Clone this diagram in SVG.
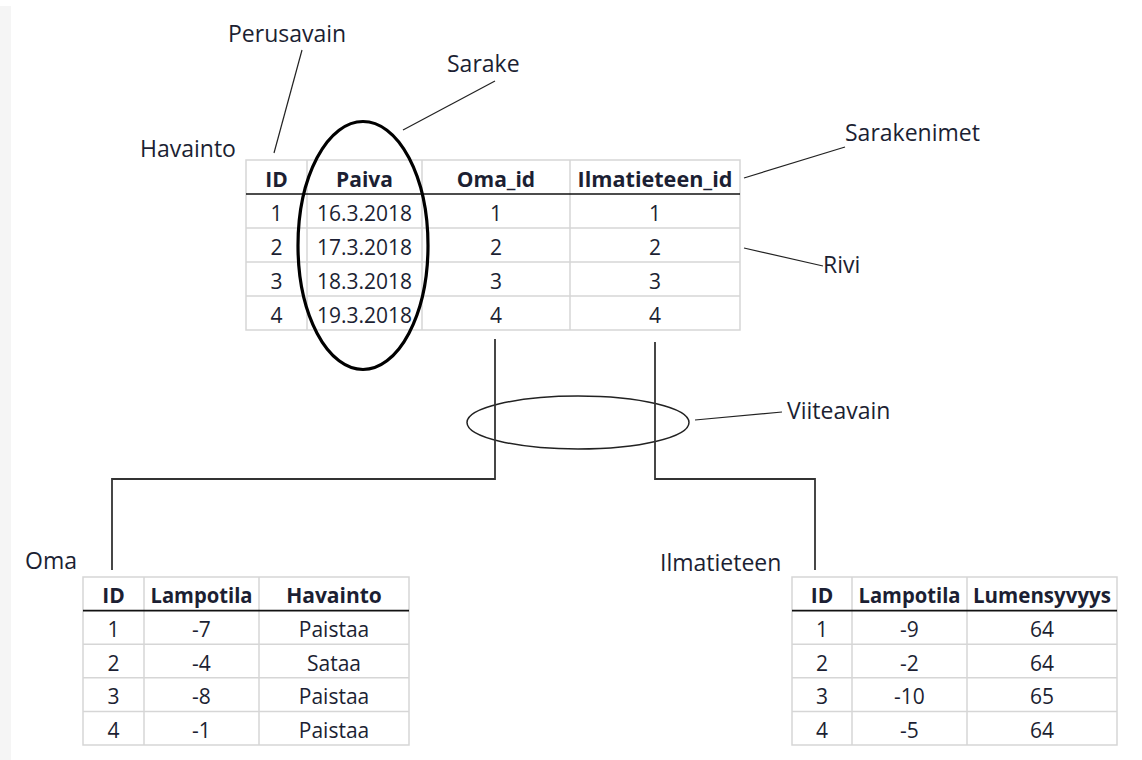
<svg xmlns="http://www.w3.org/2000/svg" width="1142" height="760" viewBox="0 0 1142 760">
  <style>
    .lbl { font-family: "Open Sans", "Liberation Sans", sans-serif; font-size: 23px; fill: #1c1f33; }
    .th { font-family: "Open Sans", "Liberation Sans", sans-serif; font-size: 21px; font-weight: bold; fill: #1c1f33; text-anchor: middle; }
    .td { font-family: "Open Sans", "Liberation Sans", sans-serif; font-size: 21px; fill: #1c1f33; text-anchor: middle; }
    .grid { stroke: #d6d6d6; stroke-width: 1.5; fill: #ffffff; }
    .headline { stroke: #111111; stroke-width: 1.6; }
    .lead { stroke: #222222; stroke-width: 1.2; fill: none; }
    .conn { stroke: #333333; stroke-width: 1.8; fill: none; }
  </style>

  <rect x="0" y="0" width="1142" height="760" fill="#ffffff"/>
  <rect x="0" y="6" width="11" height="754" fill="#f5f5f5"/>

  <!-- Havainto table -->
  <g id="havainto">
    <text class="lbl" x="140" y="157">Havainto</text>
    <rect class="grid" x="246" y="160" width="494" height="170"/>
    <g class="grid">
      <line x1="307" y1="160" x2="307" y2="330"/>
      <line x1="422" y1="160" x2="422" y2="330"/>
      <line x1="570" y1="160" x2="570" y2="330"/>
      <line x1="246" y1="228" x2="740" y2="228"/>
      <line x1="246" y1="262" x2="740" y2="262"/>
      <line x1="246" y1="296" x2="740" y2="296"/>
    </g>
    <line class="headline" x1="246" y1="194" x2="740" y2="194"/>
    <text class="th" x="276.5" y="187">ID</text>
    <text class="th" x="364.5" y="187">Paiva</text>
    <text class="th" x="496" y="187">Oma_id</text>
    <text class="th" x="655" y="187" textLength="155" lengthAdjust="spacingAndGlyphs">Ilmatieteen_id</text>
    <text class="td" x="276.5" y="221">1</text>
    <text class="td" x="364.5" y="221">16.3.2018</text>
    <text class="td" x="496" y="221">1</text>
    <text class="td" x="655" y="221">1</text>
    <text class="td" x="276.5" y="255">2</text>
    <text class="td" x="364.5" y="255">17.3.2018</text>
    <text class="td" x="496" y="255">2</text>
    <text class="td" x="655" y="255">2</text>
    <text class="td" x="276.5" y="289">3</text>
    <text class="td" x="364.5" y="289">18.3.2018</text>
    <text class="td" x="496" y="289">3</text>
    <text class="td" x="655" y="289">3</text>
    <text class="td" x="276.5" y="323">4</text>
    <text class="td" x="364.5" y="323">19.3.2018</text>
    <text class="td" x="496" y="323">4</text>
    <text class="td" x="655" y="323">4</text>
  </g>

  <!-- Oma table -->
  <g id="oma">
    <text class="lbl" x="25" y="569">Oma</text>
    <rect class="grid" x="83" y="577" width="326" height="168"/>
    <g class="grid">
      <line x1="144" y1="577" x2="144" y2="745"/>
      <line x1="259" y1="577" x2="259" y2="745"/>
      <line x1="83" y1="644.2" x2="409" y2="644.2"/>
      <line x1="83" y1="677.8" x2="409" y2="677.8"/>
      <line x1="83" y1="711.4" x2="409" y2="711.4"/>
    </g>
    <line class="headline" x1="83" y1="610.6" x2="409" y2="610.6"/>
    <text class="th" x="113.5" y="603">ID</text>
    <text class="th" x="201.5" y="603" textLength="102" lengthAdjust="spacingAndGlyphs">Lampotila</text>
    <text class="th" x="334" y="603">Havainto</text>
    <text class="td" x="113.5" y="637">1</text>
    <text class="td" x="201.5" y="637">-7</text>
    <text class="td" x="334" y="637">Paistaa</text>
    <text class="td" x="113.5" y="670.5">2</text>
    <text class="td" x="201.5" y="670.5">-4</text>
    <text class="td" x="334" y="670.5">Sataa</text>
    <text class="td" x="113.5" y="704">3</text>
    <text class="td" x="201.5" y="704">-8</text>
    <text class="td" x="334" y="704">Paistaa</text>
    <text class="td" x="113.5" y="737.5">4</text>
    <text class="td" x="201.5" y="737.5">-1</text>
    <text class="td" x="334" y="737.5">Paistaa</text>
  </g>

  <!-- Ilmatieteen table -->
  <g id="ilmatieteen">
    <text class="lbl" x="660" y="571">Ilmatieteen</text>
    <rect class="grid" x="792" y="577" width="325" height="168"/>
    <g class="grid">
      <line x1="852" y1="577" x2="852" y2="745"/>
      <line x1="967" y1="577" x2="967" y2="745"/>
      <line x1="792" y1="644.2" x2="1117" y2="644.2"/>
      <line x1="792" y1="677.8" x2="1117" y2="677.8"/>
      <line x1="792" y1="711.4" x2="1117" y2="711.4"/>
    </g>
    <line class="headline" x1="792" y1="610.6" x2="1117" y2="610.6"/>
    <text class="th" x="822" y="603">ID</text>
    <text class="th" x="909.5" y="603" textLength="102" lengthAdjust="spacingAndGlyphs">Lampotila</text>
    <text class="th" x="1042" y="603" textLength="138" lengthAdjust="spacingAndGlyphs">Lumensyvyys</text>
    <text class="td" x="822" y="637">1</text>
    <text class="td" x="909.5" y="637">-9</text>
    <text class="td" x="1042" y="637">64</text>
    <text class="td" x="822" y="670.5">2</text>
    <text class="td" x="909.5" y="670.5">-2</text>
    <text class="td" x="1042" y="670.5">64</text>
    <text class="td" x="822" y="704">3</text>
    <text class="td" x="909.5" y="704">-10</text>
    <text class="td" x="1042" y="704">65</text>
    <text class="td" x="822" y="737.5">4</text>
    <text class="td" x="909.5" y="737.5">-5</text>
    <text class="td" x="1042" y="737.5">64</text>
  </g>

  <!-- Annotation labels -->
  <g id="labels">
    <text class="lbl" x="228" y="42">Perusavain</text>
    <text class="lbl" x="447" y="72">Sarake</text>
    <text class="lbl" x="845" y="141">Sarakenimet</text>
    <text class="lbl" x="823" y="273">Rivi</text>
    <text class="lbl" x="787" y="419">Viiteavain</text>
  </g>

  <!-- Connectors, leader lines and highlight ellipses -->
  <g id="connectors">
    <ellipse cx="363" cy="245.5" rx="65" ry="124" fill="none" stroke="#000000" stroke-width="3.2"/>
    <ellipse cx="578" cy="422.5" rx="111" ry="26.5" fill="none" stroke="#222222" stroke-width="1.5"/>
    <line class="lead" x1="302" y1="50" x2="274" y2="153"/>
    <line class="lead" x1="403" y1="130" x2="495" y2="81"/>
    <line class="lead" x1="744" y1="178" x2="845" y2="147"/>
    <line class="lead" x1="744" y1="248" x2="823" y2="266"/>
    <line class="lead" x1="695" y1="420" x2="782" y2="412"/>
    <polyline class="conn" points="495,339 495,479 112,479 112,570"/>
    <polyline class="conn" points="655,342 655,479 815,479 815,570"/>
  </g>
</svg>
